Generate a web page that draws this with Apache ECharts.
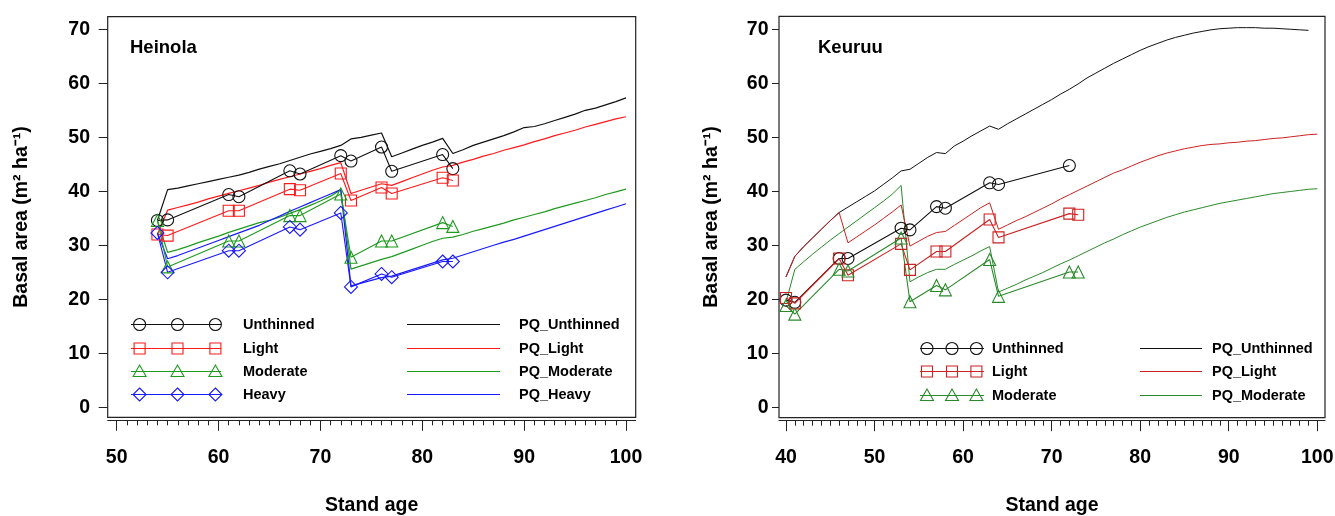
<!DOCTYPE html>
<html>
<head>
<meta charset="utf-8">
<script src="https://cdn.jsdelivr.net/npm/echarts@6/dist/echarts.min.js"></script>
<style>html,body{margin:0;padding:0;background:#fff;}#c{width:1335px;height:516px;}</style>
</head>
<body>
<div id="c"></div>
<script>
// ---------------- DATA ----------------
// Heinola (left panel) observed
const obsAgeL = [54,55,61,62,67,68,72,73,76,77,82,83];
const unthL   = [34.6,34.7,39.4,39.0,43.8,43.2,46.6,45.6,48.2,43.7,46.8,44.2];
const lightL  = [32.0,31.8,36.4,36.4,40.4,40.2,43.3,38.3,40.7,39.6,42.5,42.0];
const modL    = [34.6,26.0,30.8,30.8,35.5,35.5,39.5,27.8,30.8,30.8,34.2,33.5];
const heavyL  = [32.3,25.0,29.0,29.0,33.4,32.9,36.0,22.3,24.7,24.1,27.0,27.0];
// Heinola predicted (yearly)
const pqAgeL = [54,55,56,57,58,59,60,61,62,63,64,65,66,67,68,69,70,71,72,73,74,75,76,77,78,79,80,81,82,83,84,85,86,87,88,89,90,91,92,93,94,95,96,97,98,99,100];
const pqUnthL  = [34.6,40.3,40.6,41.0,41.4,41.8,42.2,42.6,43.0,43.5,44.1,44.6,45.1,45.7,46.3,46.9,47.4,47.9,48.5,49.7,50.0,50.4,50.8,46.4,47.1,47.8,48.5,49.1,49.8,47.0,47.7,48.5,49.1,49.7,50.3,51.0,51.8,52.0,52.5,53.1,53.7,54.3,55.0,55.4,56.0,56.6,57.3];
const pqLightL = [32.0,36.5,37.0,37.5,38.0,38.6,39.1,39.6,40.1,40.6,41.1,41.7,42.2,42.7,43.2,43.7,44.2,44.8,45.3,39.6,40.2,40.8,41.4,41.1,41.8,42.5,43.2,43.9,44.5,44.8,45.4,45.9,46.5,47.0,47.6,48.1,48.6,49.2,49.7,50.3,50.8,51.3,51.9,52.4,52.9,53.4,53.8];
const pqModL   = [34.6,28.7,29.2,29.8,30.5,31.1,31.7,32.4,33.0,33.6,34.2,34.6,35.2,35.9,36.6,37.4,38.2,39.1,40.3,25.6,26.2,26.8,27.4,27.9,28.6,29.3,30.0,30.7,31.3,31.5,32.0,32.6,33.1,33.6,34.1,34.7,35.2,35.7,36.2,36.8,37.3,37.8,38.3,38.8,39.4,39.9,40.4];
const pqHeavyL = [32.3,27.5,28.1,28.8,29.5,30.2,30.9,31.6,32.3,33.0,33.7,34.6,35.4,36.3,37.1,37.9,38.7,39.5,40.3,22.5,23.0,23.5,24.0,24.3,24.9,25.5,26.1,26.7,27.3,27.6,28.2,28.8,29.4,30.0,30.6,31.1,31.7,32.3,32.9,33.5,34.1,34.7,35.3,35.9,36.5,37.1,37.7];

// Keuruu (right panel) observed
const obsAgeR = [40,41,46,47,53,54,57,58,63,64,72,73];
const unthR   = [19.9,19.5,27.6,27.6,33.2,32.9,37.2,36.9,41.6,41.3,44.8,null];
const lightR  = [20.3,19.3,27.6,24.5,30.3,25.5,28.9,28.9,34.8,31.5,35.9,35.7];
const modR    = [18.9,17.3,25.6,25.3,31.4,19.6,22.6,21.8,27.4,20.6,25.1,25.1];
// Keuruu predicted (yearly)
const pqAgeR = [40,41,42,43,44,45,46,47,48,49,50,51,52,53,54,55,56,57,58,59,60,61,62,63,64,65,66,67,68,69,70,71,72,73,74,75,76,77,78,79,80,81,82,83,84,85,86,87,88,89,90,91,92,93,94,95,96,97,98,99,100];
const pqUnthR  = [24.2,28.0,29.8,31.4,33.0,34.6,36.1,37.1,38.1,39.1,40.1,41.3,42.5,43.8,44.1,45.2,46.3,47.2,47.0,48.4,49.3,50.3,51.2,52.1,51.5,52.5,53.4,54.3,55.2,56.1,57.0,58.0,58.9,59.9,61.0,61.9,62.8,63.7,64.5,65.3,66.1,66.8,67.4,68.0,68.5,68.9,69.3,69.6,69.9,70.1,70.2,70.3,70.3,70.3,70.2,70.2,70.1,70.0,69.9,69.8,null];
const pqLightR = [24.2,28.0,29.8,31.4,33.0,34.6,36.1,30.5,31.6,32.7,33.8,35.0,36.2,37.5,29.9,30.8,31.7,32.4,32.6,33.7,34.8,35.9,37.0,37.9,33.0,33.8,34.6,35.3,36.1,36.9,37.7,38.6,39.4,40.2,41.0,41.8,42.6,43.4,44.0,44.7,45.4,46.0,46.6,47.1,47.5,47.9,48.2,48.5,48.7,48.8,49.0,49.1,49.3,49.4,49.6,49.8,49.9,50.1,50.3,50.5,50.6];
const pqModR   = [19.5,25.6,27.0,28.4,29.7,31.0,32.2,33.4,34.6,35.8,37.0,38.2,39.5,41.1,23.3,24.2,25.0,25.6,25.6,26.5,27.3,28.1,29.0,29.8,21.4,22.1,22.8,23.6,24.3,25.0,25.8,26.6,27.3,28.1,28.9,29.7,30.5,31.2,32.0,32.7,33.4,34.0,34.6,35.2,35.7,36.2,36.6,37.0,37.4,37.8,38.1,38.4,38.7,39.0,39.3,39.6,39.8,40.0,40.2,40.4,40.5];

// tick labels
const xTicksL = [50,60,70,80,90,100];
const xTicksR = [40,50,60,70,80,90,100];
const yTicks  = [0,10,20,30,40,50,60,70];
const xMinorL = [50,51,52,53,54,55,56,57,58,59,60,61,62,63,64,65,66,67,68,69,70,71,72,73,74,75,76,77,78,79,80,81,82,83,84,85,86,87,88,89,90,91,92,93,94,95,96,97,98,99,100];
const xMinorR = [40,41,42,43,44,45,46,47,48,49].concat(xMinorL);

const titles = ['Heinola','Keuruu'];
const obsNamesL = ['Unthinned','Light','Moderate','Heavy'];
const pqNamesL = ['PQ_Unthinned','PQ_Light','PQ_Moderate','PQ_Heavy'];
const obsNamesR = ['Unthinned','Light','Moderate'];
const pqNamesR = ['PQ_Unthinned','PQ_Light','PQ_Moderate'];

// ---------------- STYLE ----------------
const FF = '"Liberation Sans", Arial, Helvetica, sans-serif';
const colL = ['#111111','#ff1a1a','#1f9a1f','#1a1aff'];
const colR = ['#111111','#cc2222','#2a8a2a'];
const symE = ['circle','rect','triangle','diamond'];
const symSize = [12,11,12,13];

function pairs(ages, vals){ const out=[]; ages.forEach((a,i)=>{ if(vals[i]!==null && vals[i]!==undefined) out.push([a, vals[i]]); }); return out; }

function obsSeries(name, xi, yi, ages, vals, color, k){
  return {name, type:'line', xAxisIndex:xi, yAxisIndex:yi, data:pairs(ages, vals),
    symbol:symE[k], symbolSize:symSize[k], showSymbol:true, showAllSymbol:true,
    lineStyle:{color, width:1.1}, itemStyle:{color:'rgba(0,0,0,0)', borderColor:color, borderWidth:1.1},
    emphasis:{disabled:true}, silent:true, z:3};
}
function pqSeries(name, xi, yi, ages, vals, color, w){
  return {name, type:'line', xAxisIndex:xi, yAxisIndex:yi, data:pairs(ages, vals),
    symbol:'none', lineStyle:{color, width:w}, emphasis:{disabled:true}, silent:true, z:2};
}

const series = [
  obsSeries(obsNamesL[0],0,0,obsAgeL,unthL,colL[0],0),
  obsSeries(obsNamesL[1],0,0,obsAgeL,lightL,colL[1],1),
  obsSeries(obsNamesL[2],0,0,obsAgeL,modL,colL[2],2),
  obsSeries(obsNamesL[3],0,0,obsAgeL,heavyL,colL[3],3),
  pqSeries(pqNamesL[0],0,0,pqAgeL,pqUnthL,colL[0],1.2),
  pqSeries(pqNamesL[1],0,0,pqAgeL,pqLightL,colL[1],1.2),
  pqSeries(pqNamesL[2],0,0,pqAgeL,pqModL,colL[2],1.2),
  pqSeries(pqNamesL[3],0,0,pqAgeL,pqHeavyL,colL[3],1.2),
  obsSeries(obsNamesR[0],2,1,obsAgeR,unthR,colR[0],0),
  obsSeries(obsNamesR[1],2,1,obsAgeR,lightR,colR[1],1),
  obsSeries(obsNamesR[2],2,1,obsAgeR,modR,colR[2],2),
  pqSeries(pqNamesR[0],2,1,pqAgeR,pqUnthR,colR[0],1),
  pqSeries(pqNamesR[2],2,1,pqAgeR,pqModR,colR[2],1),
  pqSeries(pqNamesR[1],2,1,pqAgeR,pqLightR,colR[1],1)
];

const lblStyle = {fontFamily:FF, fontWeight:'bold', fontSize:19.5, color:'#000'};
const nameStyle = {fontFamily:FF, fontWeight:'bold', fontSize:19.5, color:'#000'};

function xMain(grid, min, max, ticks){
  return {type:'value', gridIndex:grid, position:'bottom', min, max, offset:3,
    axisLine:{show:true, onZero:false, lineStyle:{color:'#222', width:1}},
    axisTick:{show:true, customValues:ticks, length:10.5, lineStyle:{color:'#222', width:1}},
    axisLabel:{show:true, customValues:ticks, margin:27, ...lblStyle},
    splitLine:{show:false},
    name:'Stand age', nameLocation:'middle', nameGap:75, nameTextStyle:nameStyle};
}
function xMinor(grid, min, max, ticks){
  return {type:'value', gridIndex:grid, position:'bottom', min, max, offset:3,
    axisLine:{show:false, onZero:false},
    axisTick:{show:true, customValues:ticks, length:5, lineStyle:{color:'#222', width:1}},
    axisLabel:{show:false}, splitLine:{show:false}};
}
function yMain(grid, min, max, tickLen, margin, gap){
  return {type:'value', gridIndex:grid, position:'left', min, max,
    axisLine:{show:false, onZero:false},
    axisTick:{show:true, customValues:yTicks, length:tickLen, lineStyle:{color:'#222', width:1}},
    axisLabel:{show:true, customValues:yTicks, margin, ...lblStyle},
    splitLine:{show:false},
    name:'Basal area (m\u00b2 ha\u207b\u00b9)', nameLocation:'middle', nameRotate:90, nameGap:gap, nameTextStyle:nameStyle};
}

// legend graphics
function markerEl(k, cx, cy, color){
  const s = {fill:'none', stroke:color, lineWidth:1.1};
  if(k===0) return {type:'circle', shape:{cx, cy, r:6}, style:s, z:10};
  if(k===1) return {type:'rect', shape:{x:cx-5.5, y:cy-5.5, width:11, height:11}, style:s, z:10};
  if(k===2) return {type:'polygon', shape:{points:[[cx,cy-6.5],[cx+6.5,cy+5],[cx-6.5,cy+5]]}, style:s, z:10};
  return {type:'polygon', shape:{points:[[cx,cy-6.5],[cx+6.5,cy],[cx,cy+6.5],[cx-6.5,cy]]}, style:s, z:10};
}
const legFont = 'bold 14.5px ' + FF;
function legend(rows, names, pqNames, cols, L){
  const els = [];
  rows.forEach((y,i)=>{
    els.push({type:'line', shape:{x1:L.l1, y1:y, x2:L.l2, y2:y}, style:{stroke:cols[i], lineWidth:1.2}, z:9});
    L.sx.forEach(x=>els.push(markerEl(i, x, y, cols[i])));
    els.push({type:'text', x:L.t1, y:y, style:{text:names[i], font:legFont, fill:'#000', align:'left', verticalAlign:'middle'}, z:10});
    els.push({type:'line', shape:{x1:L.p1, y1:y, x2:L.p2, y2:y}, style:{stroke:cols[i], lineWidth:1.2}, z:9});
    els.push({type:'text', x:L.t2, y:y, style:{text:pqNames[i], font:legFont, fill:'#000', align:'left', verticalAlign:'middle'}, z:10});
  });
  return els;
}
const graphics = [].concat(
  legend([324.5,348.5,371.5,394.5], obsNamesL, pqNamesL, colL, {l1:131, l2:221, sx:[139.6,177.5,215.4], t1:243, p1:407, p2:500, t2:519}),
  legend([348.5,371.5,395.5], obsNamesR, pqNamesR, colR, {l1:920, l2:984, sx:[927,952,976.4], t1:992, p1:1140, p2:1202, t2:1212}),
  [
    {type:'text', x:130, y:47.5, style:{text:titles[0], font:'bold 18.5px '+FF, fill:'#000', align:'left', verticalAlign:'middle'}, z:10},
    {type:'text', x:818, y:47.5, style:{text:titles[1], font:'bold 18.5px '+FF, fill:'#000', align:'left', verticalAlign:'middle'}, z:10}
  ]
);

const option = {
  animation:false,
  backgroundColor:'#fff',
  grid:[
    {left:107.7, top:16.7, width:528, height:400.6, show:true, borderColor:'#222', borderWidth:1.2, backgroundColor:'rgba(0,0,0,0)', containLabel:false, outerBoundsMode:'none'},
    {left:779, top:16.3, width:546, height:401.4, show:true, borderColor:'#222', borderWidth:1.2, backgroundColor:'rgba(0,0,0,0)', containLabel:false, outerBoundsMode:'none'}
  ],
  xAxis:[
    xMain(0, 49.12, 100.95, xTicksL),
    xMinor(0, 49.12, 100.95, xMinorL),
    xMain(1, 39.21, 100.87, xTicksR),
    xMinor(1, 39.21, 100.87, xMinorR)
  ],
  yAxis:[
    yMain(0, -1.85, 72.33, 9, 17.7, 76),
    yMain(1, -1.85, 72.4, 7, 10.5, 57)
  ],
  graphic:graphics,
  series
};
const chart = echarts.init(document.getElementById('c'), null, {renderer:'canvas'});
chart.setOption(option);
</script>
</body>
</html>
